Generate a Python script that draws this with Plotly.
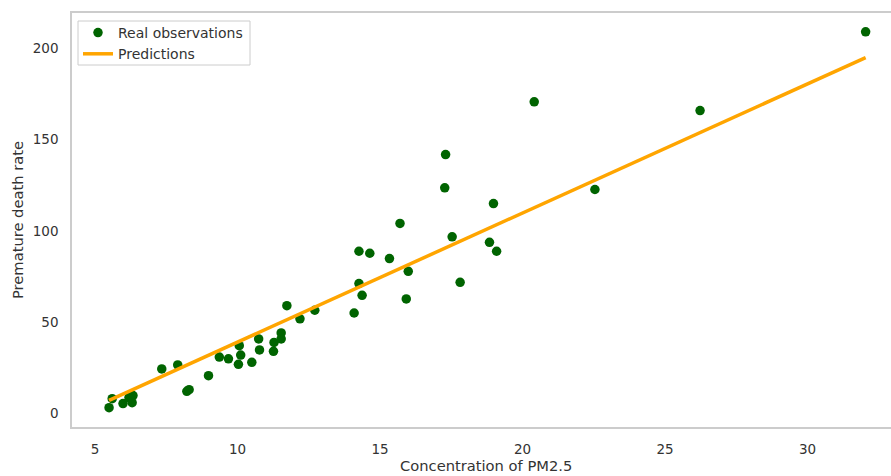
import plotly.graph_objects as go

# Observed data
pm25 = [5.49, 5.60, 5.98, 6.19, 6.33, 6.30, 7.34, 7.90, 8.22, 8.30, 8.98, 9.36, 9.68,
        10.03, 10.11, 10.06, 10.50, 10.77, 10.74, 11.28, 11.26, 11.53, 11.53, 11.73,
        12.19, 12.71, 14.09, 14.26, 14.37, 14.26, 14.64, 15.33, 15.70, 15.99, 15.92,
        17.30, 17.27, 17.53, 17.81, 18.84, 19.09, 18.98, 20.41, 22.54, 26.23, 32.04]
death_rate = [3.3, 8.2, 5.5, 8.8, 9.9, 6.0, 24.5, 26.7, 12.2, 13.1, 20.8, 31.0, 30.0,
              27.0, 32.1, 37.2, 28.1, 34.9, 40.9, 39.0, 34.1, 44.2, 40.9, 59.1,
              51.9, 56.6, 55.1, 71.2, 64.8, 88.9, 87.8, 84.9, 104.1, 77.9, 62.8,
              141.8, 123.6, 96.8, 71.9, 93.8, 88.9, 115.0, 170.7, 122.7, 165.9, 209.0]

# Model predictions (straight line)
pred_x = [5.49, 32.04]
pred_y = [7.3, 194.9]

x_ticks = [5, 10, 15, 20, 25, 30]
y_ticks = [0, 50, 100, 150, 200]

x_title = "Concentration of PM2.5"
y_title = "Premature death rate"

font_color = "#333333"
grid_color = "#cccccc"

W, H = 891, 476
ML, MR, MT, MB = 72, 0, 13, 49
PW, PH = W - ML - MR, H - MT - MB


def px_x(p):
    return (p - ML) / PW


def px_y(p):
    return (H - MB - p) / PH


fig = go.Figure()
fig.add_trace(go.Scatter(
    x=pm25, y=death_rate, mode="markers", name="Real observations",
    marker=dict(color="#006400", size=9.5, line=dict(width=0)),
))
fig.add_trace(go.Scatter(
    x=pred_x, y=pred_y, mode="lines", name="Predictions",
    line=dict(color="#FFA500", width=3.5),
))

# legend frame
fig.add_shape(
    type="rect", xref="paper", yref="paper",
    x0=px_x(78), x1=px_x(250), y0=px_y(65), y1=px_y(21),
    line=dict(color=grid_color, width=1), fillcolor="white", layer="below",
)

# x axis title placed to match reference
fig.add_annotation(
    text=x_title, xref="paper", yref="paper",
    x=px_x(486), y=px_y(465), xanchor="center", yanchor="middle",
    showarrow=False, font=dict(size=14.7, color=font_color),
)

fig.update_layout(
    width=W, height=H,
    margin=dict(l=ML, r=MR, t=MT, b=MB),
    paper_bgcolor="white", plot_bgcolor="white",
    font=dict(family="DejaVu Sans", size=13.5, color=font_color),
    showlegend=True,
    legend=dict(
        x=px_x(78), y=px_y(17), xanchor="left", yanchor="top",
        bgcolor="rgba(0,0,0,0)", borderwidth=0,
        font=dict(size=14, color=font_color),
        tracegroupgap=0, itemwidth=30,
    ),
    xaxis=dict(
        range=[4.19, 32.93], tickvals=x_ticks,
        showgrid=False, zeroline=False,
        showline=True, linecolor=grid_color, linewidth=1.5, mirror=True,
        ticks="outside", ticklen=9, tickcolor="rgba(0,0,0,0)",
    ),
    yaxis=dict(
        range=[-7.3, 219.3], tickvals=y_ticks,
        showgrid=False, zeroline=False,
        showline=True, linecolor=grid_color, linewidth=1.5, mirror=False,
        ticks="outside", ticklen=9, tickcolor="rgba(0,0,0,0)",
        title=dict(text=y_title, standoff=6, font=dict(size=14.7)),
    ),
)

fig.write_html("out.html")
